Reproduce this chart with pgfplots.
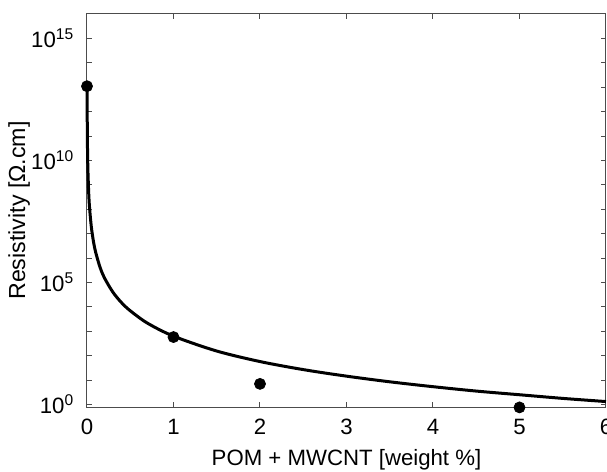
\documentclass[border=0pt]{standalone}
\usepackage{fontspec}
\setmainfont{Liberation Sans}
\usepackage{pgfplots}
\pgfplotsset{compat=1.18}

\begin{document}
\fontsize{11.1pt}{13pt}\selectfont
\begin{tikzpicture}
\begin{axis}[
    name=ax,
    scale only axis,
    width=259.5pt,
    height=196.5pt,
    xmin=0, xmax=6,
    ymode=log,
    ymin=0.79, ymax=1e16,
    xtick={0,1,2,3,4,5,6},
    ytick={1,1e1,1e2,1e3,1e4,1e5,1e6,1e7,1e8,1e9,1e10,1e11,1e12,1e13,1e14,1e15},
    yticklabels={10\textsuperscript{0},,,,,10\textsuperscript{5},,,,,10\textsuperscript{10},,,,,10\textsuperscript{15}},
    yminorticks=false,
    /pgf/number format/assume math mode=true,
    xticklabel={\pgfmathprintnumber{\tick}},
    tick align=inside,
    major tick length=2.5pt,
    axis line style={black!70, line width=0.5pt},
    tick style={black!70, line width=0.5pt},
    xlabel={POM + MWCNT [weight \%]},
    ylabel={Resistivity [Ω.cm]},
    xticklabel style={yshift=-2pt},
    yticklabel style={xshift=-2.5pt},
    ylabel style={yshift=-7pt, font=\fontsize{11.6pt}{13pt}\selectfont},
    clip=false,
]
% fitted curve
\addplot[black, line width=1.5pt, smooth] coordinates {
    (0.001,1.32e13)(0.002,1.20e12)(0.005,5.25e10)(0.01,4.79e9)
    (0.02,4.37e8)(0.03,1.10e8)(0.05,1.91e7)(0.075,4.68e6)
    (0.1,1.74e6)(0.15,4.27e5)(0.2,1.58e5)(0.3,3.98e4)
    (0.4,1.48e4)(0.5,6.92e3)(0.7,2.14e3)(1,631)
    (1.5,155)(2,57.5)(2.5,26.9)(3,14.5)(3.5,8.51)
    (4,5.37)(4.5,3.55)(5,2.51)(5.5,1.78)(6,1.32)
};
% measured points
\addplot[only marks, mark=*, mark size=2.75pt, black] coordinates {
    (0,1.1e13)(1,580)(2,7)(5,0.76)
};
\end{axis}
\pgfresetboundingbox
\path[use as bounding box] (-43.5pt,-32.5pt) rectangle (260pt,203.5pt);
\end{tikzpicture}
\end{document}
